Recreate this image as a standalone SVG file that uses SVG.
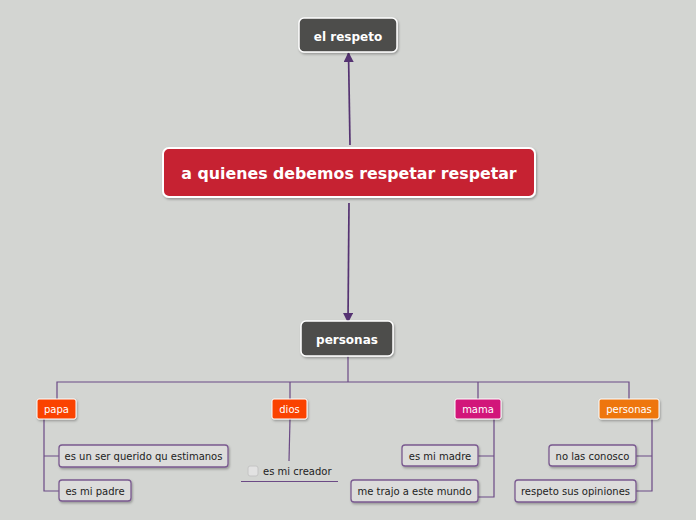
<svg xmlns="http://www.w3.org/2000/svg" width="696" height="520" viewBox="0 0 696 520">
<defs>
<marker id="arr" viewBox="0 0 10 10" refX="9" refY="5" markerWidth="6" markerHeight="6" orient="auto-start-reverse">
<path d="M0,0 L10,5 L0,10 z" fill="#553372"/>
</marker>
<filter id="sh" x="-10%" y="-20%" width="130%" height="150%">
<feDropShadow dx="1" dy="1.5" stdDeviation="1" flood-color="#000" flood-opacity="0.3"/>
</filter>
<style>
.main{fill:#4d4d4b;stroke:#fff;stroke-width:1.5;filter:url(#sh)}
.mt{font-family:"DejaVu Sans",sans-serif;font-weight:bold;font-size:12px;fill:#fff;text-anchor:middle}
.sub{stroke:#fff;stroke-width:1;filter:url(#sh)}
.st{font-family:"DejaVu Sans",sans-serif;font-size:10px;fill:#fff;text-anchor:middle}
.leaf{fill:#dcdcdb;stroke:#7a5a90;stroke-width:1.3;filter:url(#sh)}
.lt{font-family:"DejaVu Sans",sans-serif;font-size:10px;fill:#222;text-anchor:middle}
.ln{fill:none;stroke:#6b4a85;stroke-width:1.2}
.ax{fill:none;stroke:#553372;stroke-width:1.7}
</style>
</defs>
<rect width="696" height="520" fill="#d3d5d2"/>
<g id="connectors">
<path class="ax" d="M350,145 L348.5,53" marker-end="url(#arr)"/>
<path class="ax" d="M349,203 L348,322" marker-end="url(#arr)"/>
<path class="ln" d="M348,356 V382 M57,399 V382 H629 V399 M290,382 V399 M478,382 V399"/>
<path class="ln" d="M44,419 V491 H59 M44,456 H59"/>
<path class="ln" d="M290,419 L289,461"/>
<path class="ln" d="M241,481.5 H338"/>
<path class="ln" d="M494,419 V497 H478 M494,456 H478"/>
<path class="ln" d="M652,419 V491 H636 M652,456 H636"/>
</g>
<g id="n-respeto">
<rect class="main" x="299" y="18" width="98" height="34" rx="5"/>
<text class="mt" x="348" y="41">el respeto</text>
</g>
<g id="n-central">
<rect x="163" y="148" width="372" height="49" rx="6" fill="#c62033" stroke="#fff" stroke-width="2" filter="url(#sh)"/>
<text x="349" y="179" font-family="DejaVu Sans, sans-serif" font-weight="bold" font-size="15.8" fill="#fff" text-anchor="middle">a quienes debemos respetar respetar</text>
</g>
<g id="n-personas">
<rect class="main" x="301" y="321" width="92" height="35" rx="5"/>
<text class="mt" x="347" y="344">personas</text>
</g>
<g id="n-papa">
<rect class="sub" x="37" y="399" width="39" height="20" rx="2" fill="#fa4300"/>
<text class="st" x="56.5" y="413">papa</text>
</g>
<g id="n-dios">
<rect class="sub" x="272" y="399" width="35" height="20" rx="2" fill="#fa4300"/>
<text class="st" x="289.5" y="413">dios</text>
</g>
<g id="n-mama">
<rect class="sub" x="455" y="399" width="46" height="20" rx="2" fill="#d2197a"/>
<text class="st" x="478" y="413">mama</text>
</g>
<g id="n-personas2">
<rect class="sub" x="599" y="399" width="60" height="20" rx="2" fill="#ee7611"/>
<text class="st" x="629" y="413">personas</text>
</g>
<g id="n-querido">
<rect class="leaf" x="59" y="445" width="169" height="22" rx="3"/>
<text class="lt" x="143.5" y="460">es un ser querido qu estimanos</text>
</g>
<g id="n-padre">
<rect class="leaf" x="59" y="480" width="72" height="21" rx="3"/>
<text class="lt" x="95" y="495">es mi padre</text>
</g>
<g id="n-creador">
<rect x="248" y="466" width="10" height="10" rx="2" fill="#e2e2e2" stroke="#c4c4c4" stroke-width="1"/>
<text x="263" y="475" font-family="DejaVu Sans, sans-serif" font-size="10" fill="#222">es mi creador</text>
</g>
<g id="n-madre">
<rect class="leaf" x="402" y="445" width="76" height="21" rx="3"/>
<text class="lt" x="440" y="460">es mi madre</text>
</g>
<g id="n-mundo">
<rect class="leaf" x="351" y="480" width="127" height="22" rx="3"/>
<text class="lt" x="414.5" y="495">me trajo a este mundo</text>
</g>
<g id="n-conosco">
<rect class="leaf" x="549" y="445" width="87" height="21" rx="3"/>
<text class="lt" x="592.5" y="460">no las conosco</text>
</g>
<g id="n-opiniones">
<rect class="leaf" x="515" y="480" width="121" height="22" rx="3"/>
<text class="lt" x="575.5" y="495">respeto sus opiniones</text>
</g>
</svg>
